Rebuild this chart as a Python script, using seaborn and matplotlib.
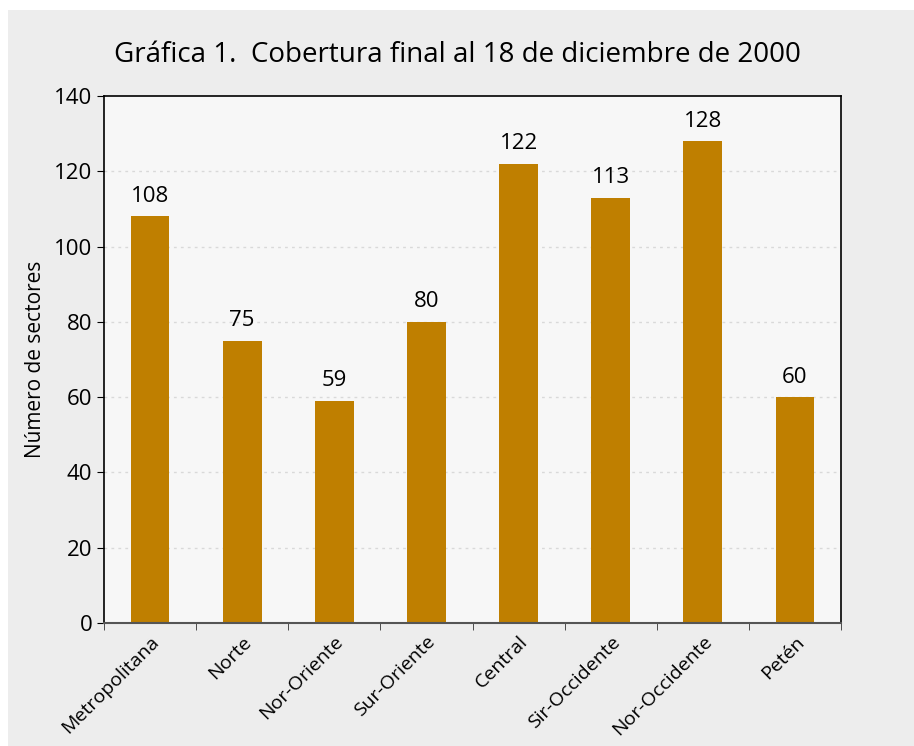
import matplotlib
matplotlib.use("Agg")
import matplotlib.pyplot as plt
from matplotlib.patches import Rectangle
import numpy as np
import pandas as pd
import seaborn as sns

regiones = ['Metropolitana', 'Norte', 'Nor-Oriente', 'Sur-Oriente', 'Central',
            'Sir-Occidente', 'Nor-Occidente', 'Petén']
sectores = [108, 75, 59, 80, 122, 113, 128, 60]
y_ticks = [0, 20, 40, 60, 80, 100, 120, 140]

sns.set_style('white')
plt.rcParams['font.family'] = ['Open Sans', 'DejaVu Sans']
plt.rcParams['text.color'] = 'black'
plt.rcParams['axes.labelcolor'] = 'black'
plt.rcParams['xtick.color'] = 'black'
plt.rcParams['ytick.color'] = 'black'

df = pd.DataFrame({'region': regiones, 'n': sectores})

fig = plt.figure(figsize=(9.14, 7.46), dpi=100, facecolor='white')
fig.patches.append(Rectangle((8 / 914, 0), 1, 736 / 746, transform=fig.transFigure,
                             facecolor='#ededed', edgecolor='none', zorder=-10))
ax = fig.add_axes([104 / 914, 1 - 623 / 746, 737 / 914, 527 / 746])
ax.set_facecolor('#f7f7f7')

sns.barplot(data=df, x='region', y='n', color='#bf7f00', saturation=1, width=0.42,
            linewidth=0, ax=ax)

# etiquetas sobre cada barra
for i, v in enumerate(sectores):
    ax.text(i, v + 2.5, str(v), ha='center', va='bottom', fontsize=16)

ax.set_xlim(-0.5, len(regiones) - 0.5)
ax.set_ylim(0, 140)
ax.set_yticks(y_ticks)
ax.tick_params(axis='y', labelsize=16, length=5, direction='out', left=True)
ax.set_xticks(range(len(regiones)))
ax.set_xticklabels(regiones, rotation=45, ha='right', rotation_mode='anchor', fontsize=14)
ax.tick_params(axis='x', which='major', length=0, pad=7)
ax.set_xticks(np.arange(-0.5, len(regiones)), minor=True)
ax.tick_params(axis='x', which='minor', length=5, direction='out', bottom=True, color='#333333')

for y in y_ticks[1:-1]:
    ax.axhline(y, color='#d9d9d9', linestyle=(0, (2, 3)), linewidth=1, zorder=0)

for s in ['left', 'top', 'right']:
    ax.spines[s].set_color('black')
    ax.spines[s].set_linewidth(1.2)
ax.spines['bottom'].set_color('#555555')
ax.spines['bottom'].set_linewidth(1.5)

ax.set_xlabel('')
ax.set_ylabel('Número de sectores', fontsize=15, labelpad=6)

fig.text(0.5, 1 - 55 / 746, 'Gráfica 1.  Cobertura final al 18 de diciembre de 2000',
         ha='center', va='center', fontsize=20)

fig.savefig('out.png', dpi=100, facecolor=fig.get_facecolor())
